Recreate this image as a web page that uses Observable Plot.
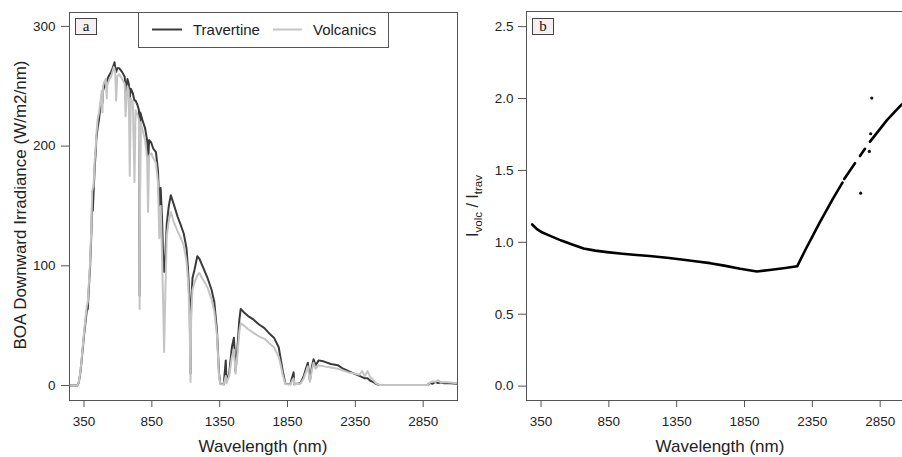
<!DOCTYPE html>
<html><head><meta charset="utf-8">
<script src="https://cdn.jsdelivr.net/npm/d3@7"></script>
<script src="https://cdn.jsdelivr.net/npm/@observablehq/plot@0.6"></script>
<style>
html,body{margin:0;padding:0;background:#fff;}
#wrap{position:relative;width:902px;height:457px;overflow:hidden;background:#fff;}
#wrap svg{position:absolute;top:0;max-width:none;}
</style></head><body><div id="wrap"></div>
<script>
// ---- Panel a: BOA downward irradiance spectra ----
const wavelength = [
  250,300,310,320,330,340,350,360,370,378,
  385,395,405,410,415,420,430,437,440,450,
  460,470,480,486,490,500,510,518,520,530,
  540,550,560,570,575,580,587,595,610,630,
  650,656,670,680,687,695,710,722,730,745,
  755,760,765,780,800,815,822,830,845,860,
  880,895,905,915,925,935,940,950,960,975,
  990,1010,1040,1060,1085,1105,1115,1122,1130,1135,
  1140,1150,1165,1185,1200,1230,1260,1290,1310,1330,
  1345,1355,1380,1395,1400,1420,1440,1455,1467,1480,
  1495,1505,1530,1560,1600,1640,1680,1720,1750,1785,
  1800,1815,1835,1870,1895,1900,1945,1970,1985,2000,
  2015,2030,2042,2057,2080,2120,2170,2220,2260,2300,
  2340,2380,2400,2420,2440,2460,2480,2500,2525,2880,
  2900,2920,2940,2960,2980,3000,3050,3100];
const travertine = [
  0,0,2,8,18,30,42,52,62,64,
  80,100,130,155,146,160,185,196,205,215,
  222,232,242,236,246,250,254,250,255,258,
  260,262,265,268,270,266,262,265,265,262,
  258,245,256,252,240,248,244,238,238,234,
  230,75,228,222,215,205,185,205,203,198,
  195,180,150,165,140,100,95,110,135,150,
  159,152,141,135,127,115,100,85,60,10,
  70,90,97,108,106,98,90,80,70,46,
  10,1.5,1,21,3,10,32,40,12,30,
  55,64,61,58,55,51,48,43,40,32,
  22,12,1.5,1,11,1,2,8,14,19,
  4,16,22,17,21,20,18,17,14,12,
  10,8,7,6,6,4,3,1.5,0.5,0.5,
  2,1.5,3,2,2.5,2,2,1.5];
const volcanics = [
  0,0,2,9,19,32,44,55,66,70,
  84,104,135,162,165,166,190,200,208,222,
  228,236,246,228,250,254,256,240,250,254,
  256,258,262,266,264,262,238,258,260,256,
  252,225,250,246,175,240,236,170,230,226,
  222,64,220,214,205,190,145,192,194,190,
  186,170,123,150,110,60,28,80,125,138,
  145,137,129,124,117,104,90,75,40,3,
  60,80,86,92,94,88,82,72,62,42,
  8,1,1,8,2,8,24,30,10,25,
  45,52,50,47,44,41,39,35,32,24,
  17,9,1,1,6,1,1.5,6,11,16,
  3,13,19,14,17,16,15,14,12.5,11,
  10,9,12,8,12,7,5,2,0.5,0.5,
  2.5,3.5,3,4.5,2.5,3,2.5,2];

// ---- Panel b: ratio I_volc / I_trav ----
const ratioWavelength = [285,320,360,418,500,580,664,750,836,950,1032,1150,1278,1400,1500,1597,1700,1818,1941,2050,2150,2238,2300,2400,2500,2572,2578,2585,2664,2682,2701,2738,2756,2775,2800,2900,3000,3050];
const ratio = [1.124,1.092,1.068,1.045,1.012,0.985,0.957,0.942,0.932,0.921,0.914,0.905,0.893,0.879,0.866,0.855,0.838,0.816,0.797,0.809,0.821,0.833,0.95,1.13,1.30,1.415,NaN,1.44,1.55,NaN,1.60,1.65,NaN,1.70,1.73,1.85,1.95,1.99];
const outlierWavelength = [2706,2770,2780,2788];
const outlierRatio = [1.342,1.632,1.755,2.003];

const xTicks = [350,850,1350,1850,2350,2850];
const yTicksA = [0,100,200,300];
const yTicksB = [0,0.5,1.0,1.5,2.0,2.5];
const seriesNames = ["Travertine","Volcanics"];
const seriesColors = ["#3a3a3a","#c4c4c4"];

const travData = wavelength.map((w,i)=>({w, v: travertine[i]}));
const volcData = wavelength.map((w,i)=>({w, v: volcanics[i]}));
const ratioData = ratioWavelength.map((w,i)=>({w, r: ratio[i]}));
const outData = outlierWavelength.map((w,i)=>({w, r: outlierRatio[i]}));

const SANS = "'Liberation Sans', Arial, Helvetica, sans-serif";
const SERIF = "'Liberation Serif', 'Times New Roman', serif";
const baseStyle = {fontFamily: SANS, fontSize: "13.5px", color: "#222", background: "transparent", overflow: "visible"};

const left = Plot.plot({
  width: 460, height: 457, marginLeft: 69, marginRight: 3, marginTop: 12, marginBottom: 57,
  style: baseStyle,
  x: {domain: [243, 3103]},
  y: {domain: [-12.5, 311.6]},
  marks: [
    Plot.line(travData, {x: "w", y: "v", stroke: seriesColors[0], strokeWidth: 2}),
    Plot.line(volcData, {x: "w", y: "v", stroke: seriesColors[1], strokeWidth: 2}),
    Plot.frame({stroke: "#555"}),
    Plot.axisX({ticks: xTicks, tickFormat: d3.format("d"), tickSize: 7, tickPadding: 9, stroke: "#555", fill: "#222", label: null}),
    Plot.axisY({ticks: yTicksA, tickFormat: d3.format("d"), tickSize: 8, tickPadding: 6, stroke: "#555", fill: "#222", label: null})
  ]
});

const right = Plot.plot({
  width: 460, height: 457, marginLeft: 66, marginRight: 6, marginTop: 11, marginBottom: 57,
  style: baseStyle,
  x: {domain: [243, 3103]},
  y: {domain: [-0.1, 2.605]},
  marks: [
    Plot.line(ratioData, {x: "w", y: "r", stroke: "#000", strokeWidth: 2.6}),
    Plot.dot(outData, {x: "w", y: "r", r: 1.6, fill: "#111", stroke: "none"}),
    Plot.frame({stroke: "#555"}),
    Plot.axisX({ticks: xTicks, tickFormat: d3.format("d"), tickSize: 7, tickPadding: 9, stroke: "#555", fill: "#222", label: null}),
    Plot.axisY({ticks: yTicksB, tickFormat: d3.format(".1f"), tickSize: 8, tickPadding: 5, stroke: "#555", fill: "#222", label: null})
  ]
});

const wrap = document.getElementById("wrap");
left.style.left = "0px";
right.style.left = "460px";
wrap.appendChild(left);
wrap.appendChild(right);

// ---- annotations: legend, panel tags, axis titles ----
const L = d3.select(left);
const lg = L.append("g").attr("text-anchor","start");
lg.append("rect").attr("x",138.5).attr("y",12.5).attr("width",250).attr("height",35)
  .attr("fill","#fff").attr("stroke","#555");
[[152,182,193],[273,302,313]].forEach(([x1,x2,tx],i)=>{
  lg.append("line").attr("x1",x1).attr("x2",x2).attr("y1",29.5).attr("y2",29.5)
    .attr("stroke",seriesColors[i]).attr("stroke-width",2);
  lg.append("text").attr("x",tx).attr("y",35).attr("text-anchor","start").attr("font-family",SANS).attr("font-size",15)
    .attr("fill","#222").text(seriesNames[i]);
});

function tag(sel, x, label){
  sel.append("rect").attr("x",x).attr("y",18.5).attr("width",21).attr("height",16)
    .attr("fill","#f7efef").attr("stroke","#444");
  sel.append("text").attr("x",x+10.5).attr("y",31).attr("text-anchor","middle")
    .attr("font-family",SERIF).attr("font-size",15).attr("fill","#111").text(label);
}
tag(L, 75.5, "a");
L.append("text").attr("x",263).attr("y",452).attr("text-anchor","middle")
  .attr("font-family",SANS).attr("font-size",17).attr("fill","#222").text("Wavelength (nm)");
L.append("text").attr("transform","translate(26,205) rotate(-90)").attr("text-anchor","middle")
  .attr("font-family",SANS).attr("font-size",17).attr("fill","#222").text("BOA Downward Irradiance (W/m2/nm)");

const R = d3.select(right);
tag(R, 72.5, "b");
R.append("text").attr("x",260).attr("y",452).attr("text-anchor","middle")
  .attr("font-family",SANS).attr("font-size",17).attr("fill","#222").text("Wavelength (nm)");
const yl = R.append("text").attr("transform","translate(18,206) rotate(-90)").attr("text-anchor","middle")
  .attr("font-family",SANS).attr("font-size",16).attr("fill","#222");
yl.append("tspan").text("I");
yl.append("tspan").attr("font-size",11.5).attr("dy",4).text("volc");
yl.append("tspan").attr("dy",-4).text(" / I");
yl.append("tspan").attr("font-size",11.5).attr("dy",4).text("trav");
</script></body></html>
